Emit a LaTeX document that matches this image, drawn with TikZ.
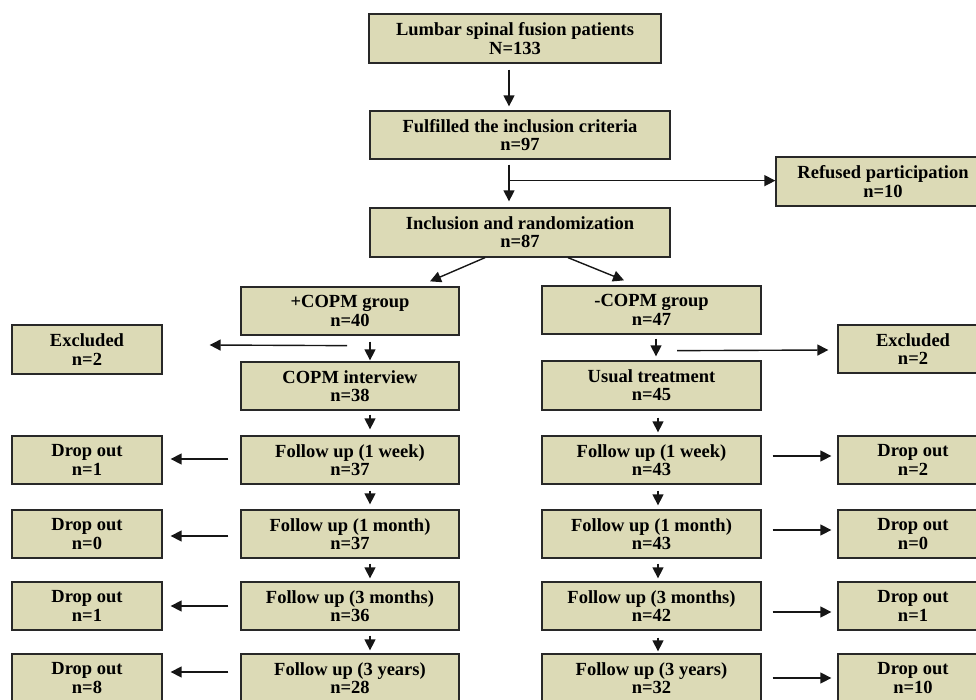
\documentclass[tikz,border=0pt]{standalone}
\usepackage{fontspec}
\setmainfont{Liberation Serif}
\usetikzlibrary{arrows.meta,calc}
\definecolor{boxfill}{RGB}{220,218,182}
\definecolor{boxline}{RGB}{40,40,40}
\definecolor{arrline}{RGB}{22,22,22}
\begin{document}
\begin{tikzpicture}[x=1pt,y=-1pt,
  box/.style={draw=boxline,fill=boxfill,line width=1.3pt,inner sep=0pt,align=center,
    font=\bfseries\fontsize{18.5}{18.3}\selectfont},
  sidebox/.style={box,minimum width=150pt,minimum height=48pt},
  lbox/.style={box,minimum width=218pt,minimum height=48pt},
  rbox/.style={box,minimum width=219pt,minimum height=48pt},
  arr/.style={draw=arrline,line width=1.4pt,-{Triangle[length=11pt,width=11pt]}}]
\useasboundingbox (0,0) rectangle (976,700);
% top column
\node[box,minimum width=292pt,minimum height=49pt] (b1) at (515,38.5) {Lumbar spinal fusion patients\\N=133};
\node[box,minimum width=300pt,minimum height=48pt] (b2) at (520,135) {Fulfilled the inclusion criteria\\n=97};
\node[box,minimum width=300pt,minimum height=49pt] (b3) at (520,232.5) {Inclusion and randomization\\n=87};
\node[box,minimum width=214pt,minimum height=49pt] (ref) at (883,181.5) {Refused participation\\n=10};
% groups
\node[lbox] (gp) at (350,311) {+COPM group\\n=40};
\node[rbox] (gm) at (651.5,310) {-COPM group\\n=47};
\node[sidebox,minimum height=49pt] (exl) at (87,349.5) {Excluded\\n=2};
\node[sidebox] (exr) at (913,349) {Excluded\\n=2};
\node[lbox] (ci) at (350,386) {COPM interview\\n=38};
\node[rbox,minimum height=49pt] (ut) at (651.5,385.5) {Usual treatment\\n=45};
% follow ups left
\node[lbox] (lf1) at (350,460) {Follow up (1 week)\\n=37};
\node[lbox] (lf2) at (350,534) {Follow up (1 month)\\n=37};
\node[lbox] (lf3) at (350,606) {Follow up (3 months)\\n=36};
\node[lbox] (lf4) at (350,678) {Follow up (3 years)\\n=28};
% follow ups right
\node[rbox] (rf1) at (651.5,460) {Follow up (1 week)\\n=43};
\node[rbox] (rf2) at (651.5,534) {Follow up (1 month)\\n=43};
\node[rbox] (rf3) at (651.5,606) {Follow up (3 months)\\n=42};
\node[rbox] (rf4) at (651.5,678) {Follow up (3 years)\\n=32};
% drop outs left
\node[sidebox] (dl1) at (87,460) {Drop out\\n=1};
\node[sidebox] (dl2) at (87,534) {Drop out\\n=0};
\node[sidebox] (dl3) at (87,606) {Drop out\\n=1};
\node[sidebox] (dl4) at (87,678) {Drop out\\n=8};
% drop outs right
\node[sidebox] (dr1) at (913,460) {Drop out\\n=2};
\node[sidebox] (dr2) at (913,534) {Drop out\\n=0};
\node[sidebox] (dr3) at (913,606) {Drop out\\n=1};
\node[sidebox] (dr4) at (913,678) {Drop out\\n=10};
% connectors top
\draw[arr] ($(b1.south)+(-6,6)$) -- ($(b2.north)+(-11,-4)$);
\draw[arr] ($(b2.south)+(-11,5)$) -- ($(b3.north)+(-11,-6)$);
\coordinate (br) at ($(b2.south)+(-11,21)$);
\draw[arr] (br) -- (br -| ref.west);
\draw[arr] ($(b3.south)+(-35,0)$) -- ($(gp.north)+(80,-5)$);
\draw[arr] ($(b3.south)+(48,0)$) -- ($(gm.north)+(-27.5,-5)$);
% group level
\draw[arr] ($(gp.south)+(20,6)$) -- ($(ci.north)+(20,-1)$);
\draw[arr] ($(gp.south)+(-3,10)$) -- ($(exl.east)+(47,-4.5)$);
\draw[arr] ($(gm.south)+(4.5,4)$) -- ($(ut.north)+(4.5,-4)$);
\draw[arr] ($(gm.south)+(25.5,16)$) -- ($(exr.west)+(-9,1)$);
% left chain
\draw[arr] ($(ci.south)+(20,4)$) -- ($(lf1.north)+(20,-6)$);
\draw[arr] ($(lf1.south)+(20,6)$) -- ($(lf2.north)+(20,-5)$);
\draw[arr] ($(lf2.south)+(20,5)$) -- ($(lf3.north)+(20,-3)$);
\draw[arr] ($(lf3.south)+(20,5)$) -- ($(lf4.north)+(20,-3)$);
% right chain
\draw[arr] ($(ut.south)+(6.5,7)$) -- ($(rf1.north)+(6.5,-3)$);
\draw[arr] ($(rf1.south)+(6.5,6)$) -- ($(rf2.north)+(6.5,-4)$);
\draw[arr] ($(rf2.south)+(6.5,5)$) -- ($(rf3.north)+(6.5,-3)$);
\draw[arr] ($(rf3.south)+(6.5,7)$) -- ($(rf4.north)+(6.5,-2)$);
% left drop outs
\draw[arr] ($(lf1.west)+(-12,-1)$) -- ($(dl1.east)+(8,-1)$);
\draw[arr] ($(lf2.west)+(-12,2)$) -- ($(dl2.east)+(8,2)$);
\draw[arr] ($(lf3.west)+(-12,0)$) -- ($(dl3.east)+(8,0)$);
\draw[arr] ($(lf4.west)+(-12,-6)$) -- ($(dl4.east)+(8,-6)$);
% right drop outs
\draw[arr] ($(rf1.east)+(11,-4)$) -- ($(dr1.west)+(-6,-4)$);
\draw[arr] ($(rf2.east)+(11,-4)$) -- ($(dr2.west)+(-6,-4)$);
\draw[arr] ($(rf3.east)+(11,6)$) -- ($(dr3.west)+(-6,6)$);
\draw[arr] ($(rf4.east)+(11,0)$) -- ($(dr4.west)+(-6,0)$);
\end{tikzpicture}
\end{document}
